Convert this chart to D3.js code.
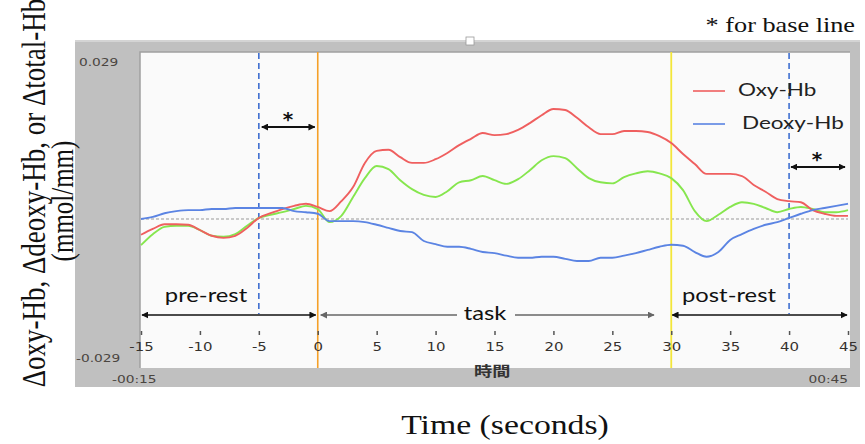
<!DOCTYPE html>
<html>
<head>
<meta charset="utf-8">
<script src="https://cdn.jsdelivr.net/npm/d3@7"></script>
<style>
  body { margin: 0; background: #fff; }
  svg { display: block; }
</style>
</head>
<body>
<div id="chart"></div>
<script>
// time in seconds, one sample per second
const times = d3.range(-15, 46);

// Oxy-Hb (red), mmol/mm
const oxyHb = [
  -0.0030, -0.0019, -0.0010, -0.0010, -0.0011, -0.0021, -0.0032, -0.0036, -0.0032, -0.0017,
   0.0002,  0.0011,  0.0019,  0.0025,  0.0029,  0.0023,  0.0015,  0.0034,  0.0061,  0.0107,
   0.0130,  0.0132,  0.0118,  0.0107,  0.0107,  0.0114,  0.0126,  0.0141,  0.0153,  0.0164,
   0.0160,  0.0162,  0.0170,  0.0183,  0.0198,  0.0210,  0.0208,  0.0193,  0.0175,  0.0162,
   0.0162,  0.0168,  0.0168,  0.0166,  0.0158,  0.0145,  0.0124,  0.0105,  0.0086,  0.0086,
   0.0086,  0.0082,  0.0065,  0.0052,  0.0038,  0.0034,  0.0032,  0.0017,  0.0010,  0.0006,
   0.0006
];

// total-Hb (green)
const totalHb = [
  -0.0050, -0.0029, -0.0015, -0.0013, -0.0013, -0.0021, -0.0032, -0.0034, -0.0029, -0.0013,
   0.0002,  0.0008,  0.0013,  0.0019,  0.0025,  0.0019, -0.0006,  0.0006,  0.0042,  0.0078,
   0.0101,  0.0095,  0.0074,  0.0057,  0.0046,  0.0042,  0.0053,  0.0070,  0.0074,  0.0082,
   0.0074,  0.0067,  0.0076,  0.0093,  0.0112,  0.0120,  0.0116,  0.0097,  0.0078,  0.0070,
   0.0068,  0.0080,  0.0087,  0.0091,  0.0087,  0.0078,  0.0055,  0.0015, -0.0004,  0.0008,
   0.0023,  0.0032,  0.0029,  0.0021,  0.0013,  0.0019,  0.0023,  0.0019,  0.0013,  0.0013,
   0.0017
];

// Deoxy-Hb (blue)
const deoxyHb = [
   0.0000,  0.0004,  0.0011,  0.0015,  0.0017,  0.0017,  0.0019,  0.0019,  0.0021,  0.0021,
   0.0021,  0.0021,  0.0021,  0.0015,  0.0013,  0.0010, -0.0004, -0.0004, -0.0004, -0.0006,
  -0.0011, -0.0017, -0.0023, -0.0025, -0.0042, -0.0048, -0.0053, -0.0053, -0.0057, -0.0063,
  -0.0065, -0.0070, -0.0074, -0.0074, -0.0072, -0.0072, -0.0076, -0.0080, -0.0080, -0.0074,
  -0.0074, -0.0070, -0.0065, -0.0059, -0.0053, -0.0049, -0.0051, -0.0063, -0.0072, -0.0063,
  -0.0040, -0.0029, -0.0019, -0.0011, -0.0006,  0.0002,  0.0010,  0.0017,  0.0021,  0.0025,
   0.0029
];

const xTicks = [-15, -10, -5, 0, 5, 10, 15, 20, 25, 30, 35, 40, 45];
const yLimits = [-0.029, 0.029];
const legendNames = ["Oxy-Hb", "Deoxy-Hb"];

const width = 865, height = 444;
const sx = 1.25; // the figure is stretched horizontally

const svg = d3.select("#chart").append("svg")
    .attr("width", width)
    .attr("height", height);

const x = d3.scaleLinear().domain([-15, 45]).range([141, 848]);
const y = d3.scaleLinear().domain(yLimits).range([371, 67]);

// plain hyphen instead of unicode minus, like the original software
const hyphen = s => String(s).replace("\u2212", "-");

// arrow heads
const defs = svg.append("defs");
function marker(id, color) {
    defs.append("marker")
        .attr("id", id)
        .attr("viewBox", "0 0 10 10")
        .attr("refX", 9).attr("refY", 5)
        .attr("markerWidth", 7).attr("markerHeight", 7)
        .attr("markerUnits", "userSpaceOnUse")
        .attr("orient", "auto-start-reverse")
        .append("path")
        .attr("d", "M0,0L10,5L0,10z")
        .attr("fill", color);
}
marker("arrBlack", "#111");
marker("arrGray", "#666");

// stretched text helper
function label(g, tx, ty, str, opts) {
    return g.append("text")
        .attr("transform", `translate(${tx},${ty}) scale(${opts.scale || sx},1)`)
        .attr("text-anchor", opts.anchor || "start")
        .attr("dominant-baseline", opts.baseline || "auto")
        .attr("font-family", opts.family || "Lato, sans-serif")
        .attr("font-size", opts.size)
        .attr("font-weight", opts.weight || "normal")
        .attr("fill", opts.fill || "#111")
        .text(str);
}

// gray frame of the software window
svg.append("rect")
    .attr("x", 75).attr("y", 40).attr("width", 785).attr("height", 347)
    .attr("fill", "#c0c0c0");
svg.append("rect")
    .attr("x", 75).attr("y", 40).attr("width", 785).attr("height", 2)
    .attr("fill", "#d4d4d4");
svg.append("rect")
    .attr("x", 466).attr("y", 37).attr("width", 8).attr("height", 8)
    .attr("fill", "#fff").attr("stroke", "#999").attr("stroke-width", 0.8);

// plot area
svg.append("rect")
    .attr("x", 140).attr("y", 52).attr("width", 710).attr("height", 316)
    .attr("fill", "#fafafa");
svg.append("path")
    .attr("d", "M140,368V52H850")
    .attr("fill", "none").attr("stroke", "#a0a0a0").attr("stroke-width", 1.5);

// value labels in the frame
const small = { family: "DejaVu Sans, sans-serif", size: 11, fill: "#4a4540", baseline: "middle" };
label(svg, 79, 63, hyphen(d3.format(".3f")(yLimits[1])), small);
label(svg, 76, 359, hyphen(d3.format(".3f")(yLimits[0])), small);
label(svg, 112, 380, "-00:15", small);
label(svg, 848, 380, "00:45", Object.assign({}, small, { anchor: "end" }));
label(svg, 474, 372, "時間", { family: "Noto Sans CJK JP, sans-serif", size: 14, weight: "bold", fill: "#333", baseline: "middle", scale: 1.3 });

// zero base line
svg.append("line")
    .attr("x1", x(-15)).attr("x2", x(45))
    .attr("y1", y(0)).attr("y2", y(0))
    .attr("stroke", "#999").attr("stroke-width", 1)
    .attr("stroke-dasharray", "3,2");

// event lines
svg.append("line")
    .attr("x1", x(0)).attr("x2", x(0)).attr("y1", 52).attr("y2", 368)
    .attr("stroke", "#f5a028").attr("stroke-width", 1.6);
svg.append("line")
    .attr("x1", x(30)).attr("x2", x(30)).attr("y1", 52).attr("y2", 368)
    .attr("stroke", "#f3e63a").attr("stroke-width", 1.8);
[-5, 40].forEach(t => {
    svg.append("line")
        .attr("x1", x(t)).attr("x2", x(t)).attr("y1", 53).attr("y2", 314)
        .attr("stroke", "#3f6fd0").attr("stroke-width", 1.6)
        .attr("stroke-dasharray", "6,4");
});

// x axis
const xAxis = svg.append("g")
    .attr("transform", "translate(0,331)")
    .call(d3.axisBottom(x).tickValues(xTicks).tickSize(4).tickPadding(7).tickFormat(d => hyphen(d)));
xAxis.select(".domain").remove();
xAxis.selectAll(".tick line").attr("stroke", "#555").attr("stroke-width", 1.5);
xAxis.selectAll(".tick text")
    .attr("font-family", "DejaVu Sans, sans-serif")
    .attr("font-size", 13)
    .attr("fill", "#35312d")
    .attr("transform", "scale(1.15,1)");

// curves
const line = d3.line()
    .x((d, i) => x(times[i]))
    .y(d => y(d))
    .curve(d3.curveMonotoneX);

svg.append("path").datum(totalHb)
    .attr("d", line).attr("fill", "none")
    .attr("stroke", "#86e64e").attr("stroke-width", 1.9);
svg.append("path").datum(oxyHb)
    .attr("d", line).attr("fill", "none")
    .attr("stroke", "#ef5f5f").attr("stroke-width", 1.9);
svg.append("path").datum(deoxyHb)
    .attr("d", line).attr("fill", "none")
    .attr("stroke", "#5b84e3").attr("stroke-width", 1.9);

// legend
const legendColors = ["#ef5f5f", "#5b84e3"];
legendNames.forEach((name, i) => {
    const ly = 91 + i * 33;
    svg.append("line")
        .attr("x1", 693).attr("x2", 725).attr("y1", ly).attr("y2", ly)
        .attr("stroke", legendColors[i]).attr("stroke-width", 1.6);
    label(svg, 738 + i * 4, ly, name, { size: 18, fill: "#222", baseline: "middle" });
});

// baseline arrows with stars
function arrow(x1, x2, yy, color, id, w, both) {
    const l = svg.append("line")
        .attr("x1", x1).attr("x2", x2).attr("y1", yy).attr("y2", yy)
        .attr("stroke", color).attr("stroke-width", w)
        .attr("marker-end", `url(#${id})`);
    if (both) l.attr("marker-start", `url(#${id})`);
}
arrow(x(-5) + 3, x(0) - 3, 127, "#111", "arrBlack", 2, true);
label(svg, 288, 126, "*", { family: "DejaVu Sans, sans-serif", size: 20, weight: "bold", scale: 1, anchor: "middle" });
arrow(x(40) + 2, x(45) - 3, 167, "#111", "arrBlack", 2, true);
label(svg, 817, 166, "*", { family: "DejaVu Sans, sans-serif", size: 20, weight: "bold", scale: 1, anchor: "middle" });

// phase arrows
arrow(x(-15) + 1, x(0) - 2, 315, "#111", "arrBlack", 1.5, true);
arrow(457, x(0) + 3, 315, "#666", "arrGray", 1.5, false);
arrow(515, 654, 315, "#666", "arrGray", 1.5, false);
arrow(x(30) + 1, x(45) - 1, 315, "#111", "arrBlack", 1.5, true);

const phase = { size: 19, fill: "#111" };
label(svg, 206, 302, "pre-rest", Object.assign({ anchor: "middle" }, phase));
label(svg, 485, 320, "task", Object.assign({ anchor: "middle" }, phase));
label(svg, 729, 302, "post-rest", Object.assign({ anchor: "middle" }, phase));

// titles
const serif = "Liberation Serif, Times New Roman, serif";
label(svg, 855, 32, "* for base line", { family: serif, size: 21, anchor: "end" });
label(svg, 505, 434, "Time (seconds)", { family: serif, size: 27, anchor: "middle" });

const yTitle = svg.append("g")
    .attr("transform", `translate(0,193) scale(${sx},1)`);
yTitle.append("text")
    .attr("transform", "translate(36,0) rotate(-90)")
    .attr("text-anchor", "middle")
    .attr("font-family", serif).attr("font-size", 27).attr("fill", "#111")
    .text("Δoxy-Hb, Δdeoxy-Hb, or Δtotal-Hb");
yTitle.append("text")
    .attr("transform", "translate(58,8) rotate(-90)")
    .attr("text-anchor", "middle")
    .attr("font-family", serif).attr("font-size", 25).attr("fill", "#111")
    .text("(mmol/mm)");
</script>
</body>
</html>
